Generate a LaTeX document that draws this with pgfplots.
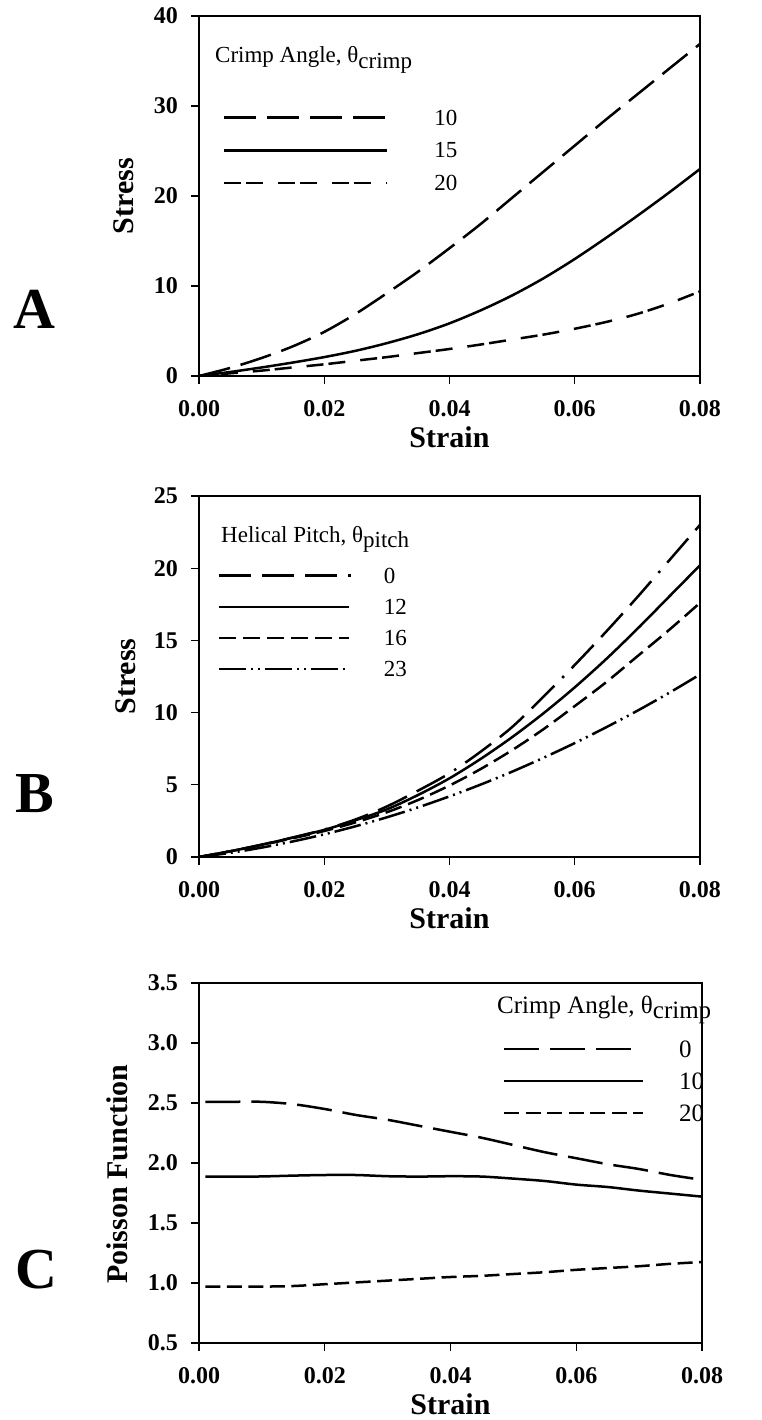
\documentclass[border=0pt]{standalone}
\usepackage{fontspec}
\setmainfont{Liberation Serif}
\usepackage{pgfplots}
\pgfplotsset{compat=1.18}

\newcommand\tickfont{\fontsize{24}{24}\selectfont\bfseries}
\newcommand\labfont{\fontsize{30}{30}\selectfont\bfseries}
\newcommand\legfont{\fontsize{23}{23}\selectfont}
\newcommand\legfontC{\fontsize{25}{25}\selectfont}
\newcommand\bigfont{\fontsize{58}{58}\selectfont\bfseries}

\pgfplotsset{
  legimg/.style={legend image code/.code={\draw[##1, line width=2.4pt] (0pt,0pt) -- (#1,0pt);}},
  panel/.style={
    scale only axis, width=501pt, height=360pt,
    xmin=0, xmax=0.08,
    scaled ticks=false,
    axis line style={line width=1.1pt},
    tick align=outside, tick pos=left,
    major tick length=8pt,
    every tick/.style={line width=1.1pt, black},
    xtick={0,0.02,0.04,0.06,0.08},
    xticklabels={0.00,0.02,0.04,0.06,0.08},
    tick label style={font=\tickfont},
    xticklabel style={inner sep=0pt, anchor=north, yshift=-16pt},
    yticklabel style={inner sep=0pt, anchor=east, xshift=-13pt},
    xlabel={Strain},
    xlabel style={at={(axis description cs:0.5,0)}, anchor=base, yshift=-71pt, inner sep=0pt, font=\labfont},
    ylabel style={anchor=base, inner sep=0pt, font=\labfont},
    every axis plot/.append style={line width=2.5pt, black, smooth, no markers},
    legend cell align=left,
    legend style={draw=none, fill=none, inner sep=0pt, outer sep=0pt, anchor=north west,
      font=\legfont, nodes={inner sep=0pt, text depth=0pt}},
  }
}

\begin{document}
\begin{tikzpicture}
\path[use as bounding box] (0pt,0pt) rectangle (762pt,-1420pt);

% ---------------- Panel A ----------------
\begin{axis}[panel, at={(199pt,-376pt)}, anchor=south west,
  ymin=0, ymax=40, ytick={0,10,20,30,40}, yticklabels={0,10,20,30,40},
  ylabel={Stress}, ylabel style={at={(axis description cs:-0.1317,0.5)}},
  legend style={at={(axis description cs:0.0479,0.739)}, row sep=17.5pt, column sep=46pt},
  legimg=163pt,
]
\addplot[dash pattern=on 32pt off 11pt] table {
x y
0 0
0.005 0.9
0.01 2.0
0.015 3.3
0.02 4.9
0.025 6.9
0.03 9.2
0.035 11.6
0.04 14.2
0.045 16.9
0.05 19.8
0.055 22.7
0.06 25.6
0.065 28.5
0.07 31.3
0.075 34.1
0.08 36.9
};
\addlegendentry{10}
\addplot[solid] table {
x y
0 0
0.005 0.45
0.01 0.95
0.015 1.5
0.02 2.1
0.025 2.8
0.03 3.65
0.035 4.65
0.04 5.85
0.045 7.3
0.05 8.95
0.055 10.85
0.06 13.0
0.065 15.35
0.07 17.8
0.075 20.35
0.08 23.0
};
\addlegendentry{15}
\addplot[dash pattern=on 17pt off 5pt on 17pt off 15pt] table {
x y
0 0
0.005 0.3
0.01 0.6
0.015 0.95
0.02 1.3
0.025 1.7
0.03 2.1
0.035 2.55
0.04 3.0
0.045 3.5
0.05 4.05
0.055 4.6
0.06 5.25
0.065 6.0
0.07 6.9
0.075 8.05
0.08 9.4
};
\addlegendentry{20}
\end{axis}

% ---------------- Panel B ----------------
\begin{axis}[panel, at={(199pt,-857pt)}, anchor=south west, height=361pt,
  ymin=0, ymax=25, ytick={0,5,10,15,20,25}, yticklabels={0,5,10,15,20,25},
  ylabel={Stress}, ylabel style={at={(axis description cs:-0.1277,0.5)}},
  legend style={at={(axis description cs:0.0379,0.801)}, row sep=16pt, column sep=32pt},
  legimg=130pt,
]
\addplot[dash pattern=on 32pt off 11pt on 32pt off 11pt on 32pt off 11pt on 2.5pt off 11pt,
  legimg=131.5pt] table {
x y
0 0
0.005 0.4
0.01 0.85
0.015 1.35
0.02 1.9
0.025 2.6
0.03 3.5
0.035 4.6
0.04 5.8
0.045 7.3
0.05 9.0
0.055 11.1
0.06 13.3
0.065 15.6
0.07 18.0
0.075 20.5
0.08 23.0
};
\addlegendentry{0}
\addplot[solid] table {
x y
0 0
0.005 0.4
0.01 0.85
0.015 1.35
0.02 1.88
0.025 2.55
0.03 3.3
0.035 4.3
0.04 5.45
0.045 6.8
0.05 8.3
0.055 9.95
0.06 11.75
0.065 13.7
0.07 15.8
0.075 18.0
0.08 20.2
};
\addlegendentry{12}
\addplot[dash pattern=on 17pt off 7pt] table {
x y
0 0
0.005 0.4
0.01 0.83
0.015 1.3
0.02 1.8
0.025 2.4
0.03 3.1
0.035 3.95
0.04 4.95
0.045 6.1
0.05 7.4
0.055 8.85
0.06 10.45
0.065 12.1
0.07 13.9
0.075 15.7
0.08 17.6
};
\addlegendentry{16}
\addplot[dash pattern=on 27pt off 5pt on 2pt off 5pt on 2pt off 5pt] table {
x y
0 0
0.005 0.29
0.01 0.65
0.015 1.08
0.02 1.57
0.025 2.13
0.03 2.75
0.035 3.44
0.04 4.2
0.045 5.02
0.05 5.91
0.055 6.87
0.06 7.89
0.065 8.98
0.07 10.13
0.075 11.35
0.08 12.64
};
\addlegendentry{23}
\end{axis}

% ---------------- Panel C ----------------
\begin{axis}[panel, at={(199pt,-1343pt)}, anchor=south west, width=503pt,
  ymin=0.5, ymax=3.5, ytick={0.5,1,1.5,2,2.5,3,3.5},
  yticklabels={0.5,1.0,1.5,2.0,2.5,3.0,3.5},
  ylabel={Poisson Function}, ylabel style={at={(axis description cs:-0.143,0.469)}},
  legend style={at={(axis description cs:0.604,0.84)}, row sep=15.5pt, column sep=35pt, font=\legfontC},
  legimg=139pt,
]
\addplot[dash pattern=on 35pt off 11pt, legimg=127pt] table {
x y
0.001 2.51
0.005 2.51
0.01 2.51
0.015 2.49
0.02 2.45
0.025 2.40
0.03 2.36
0.035 2.31
0.04 2.26
0.045 2.21
0.05 2.15
0.055 2.09
0.06 2.04
0.065 1.99
0.07 1.95
0.075 1.90
0.08 1.86
};
\addlegendentry{0}
\addplot[solid] table {
x y
0.001 1.886
0.005 1.886
0.01 1.888
0.015 1.895
0.02 1.90
0.025 1.90
0.03 1.89
0.035 1.887
0.04 1.89
0.045 1.887
0.05 1.87
0.055 1.85
0.06 1.82
0.065 1.80
0.07 1.77
0.075 1.745
0.08 1.72
};
\addlegendentry{10}
\addplot[dash pattern=on 15pt off 6.5pt] table {
x y
0.001 0.97
0.005 0.97
0.01 0.97
0.015 0.975
0.02 0.99
0.025 1.005
0.03 1.02
0.035 1.035
0.04 1.05
0.045 1.06
0.05 1.075
0.055 1.09
0.06 1.11
0.065 1.125
0.07 1.14
0.075 1.16
0.08 1.175
};
\addlegendentry{20}
\end{axis}

% legend titles and panel letters
\node[anchor=base west, inner sep=0pt, font=\legfont] at (215pt,-63pt) {Crimp Angle, θ\raisebox{-0.22em}{crimp}};
\node[anchor=base west, inner sep=0pt, font=\legfont] at (221pt,-542pt) {Helical Pitch, θ\raisebox{-0.22em}{pitch}};
\node[anchor=base west, inner sep=0pt, font=\legfontC] at (497pt,-1013pt) {Crimp Angle, θ\raisebox{-0.22em}{crimp}};
\node[anchor=base west, inner sep=0pt, font=\bigfont] at (13pt,-328pt) {A};
\node[anchor=base west, inner sep=0pt, font=\bigfont] at (15pt,-812pt) {B};
\node[anchor=base west, inner sep=0pt, font=\bigfont] at (15pt,-1288pt) {C};
\end{tikzpicture}
\end{document}
